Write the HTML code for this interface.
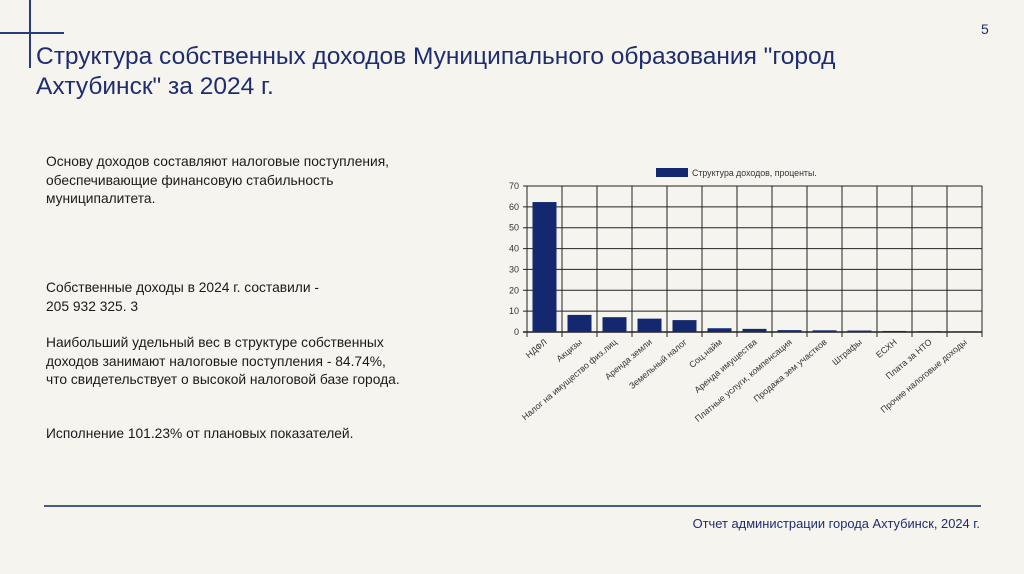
<!DOCTYPE html>
<html><head><meta charset="utf-8"><style>
body{margin:0;width:1024px;height:574px;background:#f6f4ef;position:relative;overflow:hidden;font-family:"Liberation Sans",sans-serif}
.a{position:absolute}
.t{color:#1f2d6e;font-size:24.5px;line-height:30px;left:36px;top:42px;white-space:nowrap}
.p{color:#1a1a1a;font-size:13.8px;line-height:18.5px;left:46px;white-space:nowrap}
</style></head><body>
<div class="a" style="left:29px;top:0;width:2px;height:68px;background:#2a3a7a"></div>
<div class="a" style="left:0;top:32px;width:64px;height:2px;background:#2a3a7a"></div>
<div class="a" style="left:981px;top:21px;font-size:14px;color:#1f2d6e">5</div>
<div class="a t">Структура собственных доходов Муниципального образования "город<br>Ахтубинск" за 2024 г.</div>
<div class="a p" style="top:153px">Основу доходов составляют налоговые поступления,<br>обеспечивающие финансовую стабильность<br>муниципалитета.</div>
<div class="a p" style="top:279px">Собственные доходы в 2024 г. составили -<br>205 932 325. 3</div>
<div class="a p" style="top:334px">Наибольший удельный вес в структуре собственных<br>доходов занимают налоговые поступления - 84.74%,<br>что свидетельствует о высокой налоговой базе города.</div>
<div class="a p" style="top:425px">Исполнение 101.23% от плановых показателей.</div>
<svg class="a" style="left:0;top:0" width="1024" height="574" id="chart"></svg>
<div class="a" style="left:44px;top:505px;width:937px;height:2px;background:#4a5a86"></div>
<div class="a" style="right:44px;top:516px;font-size:12.9px;color:#1f2d6e">Отчет администрации города Ахтубинск, 2024 г.</div>
<script>
const categories=["НДФЛ","Акцизы","Налог на имущество физ.лиц","Аренда земли","Земельный налог","Соц.найм","Аренда имущества","Платные услуги, компенсация","Продажа зем участков","Штрафы","ЕСХН","Плата за НТО","Прочие налоговые доходы"];
const values=[62.3,8.2,7.1,6.4,5.7,1.8,1.5,0.9,0.8,0.7,0.5,0.4,0.3];
const yTicks=[0,10,20,30,40,50,60,70];
const seriesName="Структура доходов, проценты.";
const NS="http://www.w3.org/2000/svg",svg=document.getElementById('chart');
const X0=527,CW=35,Y0=332,Y1=186,YMAX=70;
const xs=i=>X0+i*CW, ys=v=>Y0-(v/YMAX)*(Y0-Y1);
function mk(t,a){const e=document.createElementNS(NS,t);for(const k in a)e.setAttribute(k,a[k]);svg.appendChild(e);return e;}
yTicks.forEach(v=>{
 const l=mk('line',{x1:X0-4,x2:xs(categories.length),y1:ys(v),y2:ys(v),stroke:'#222','stroke-width':v===0?1.5:1});
 
 
 const t=mk('text',{x:X0-8,y:ys(v)+3,'text-anchor':'end','font-size':9,fill:'#333'});t.textContent=v;
 
 
});
for(let i=0;i<=categories.length;i++){
 const l=mk('line',{x1:xs(i),x2:xs(i),y1:Y1,y2:Y0+5,stroke:'#222','stroke-width':1});
 
 
}
categories.forEach((c,i)=>{
 const b=mk('rect',{x:xs(i)+5.5,y:ys(values[i]),width:24,height:Y0-ys(values[i]),fill:'#13286e'});
 
 
 const cx=xs(i)+CW/2+3,cy=Y0+11;
 const t=mk('text',{x:cx,y:cy,'text-anchor':'end','font-size':8.8,fill:'#333',transform:`rotate(-40 ${cx} ${cy})`});t.textContent=c;
 
 
});
const lr=mk('rect',{x:656,y:168,width:32,height:9,fill:'#13286e'});


const lt=mk('text',{x:692,y:176,'font-size':8.8,fill:'#333'});lt.textContent=seriesName;


</script>
</body></html>
